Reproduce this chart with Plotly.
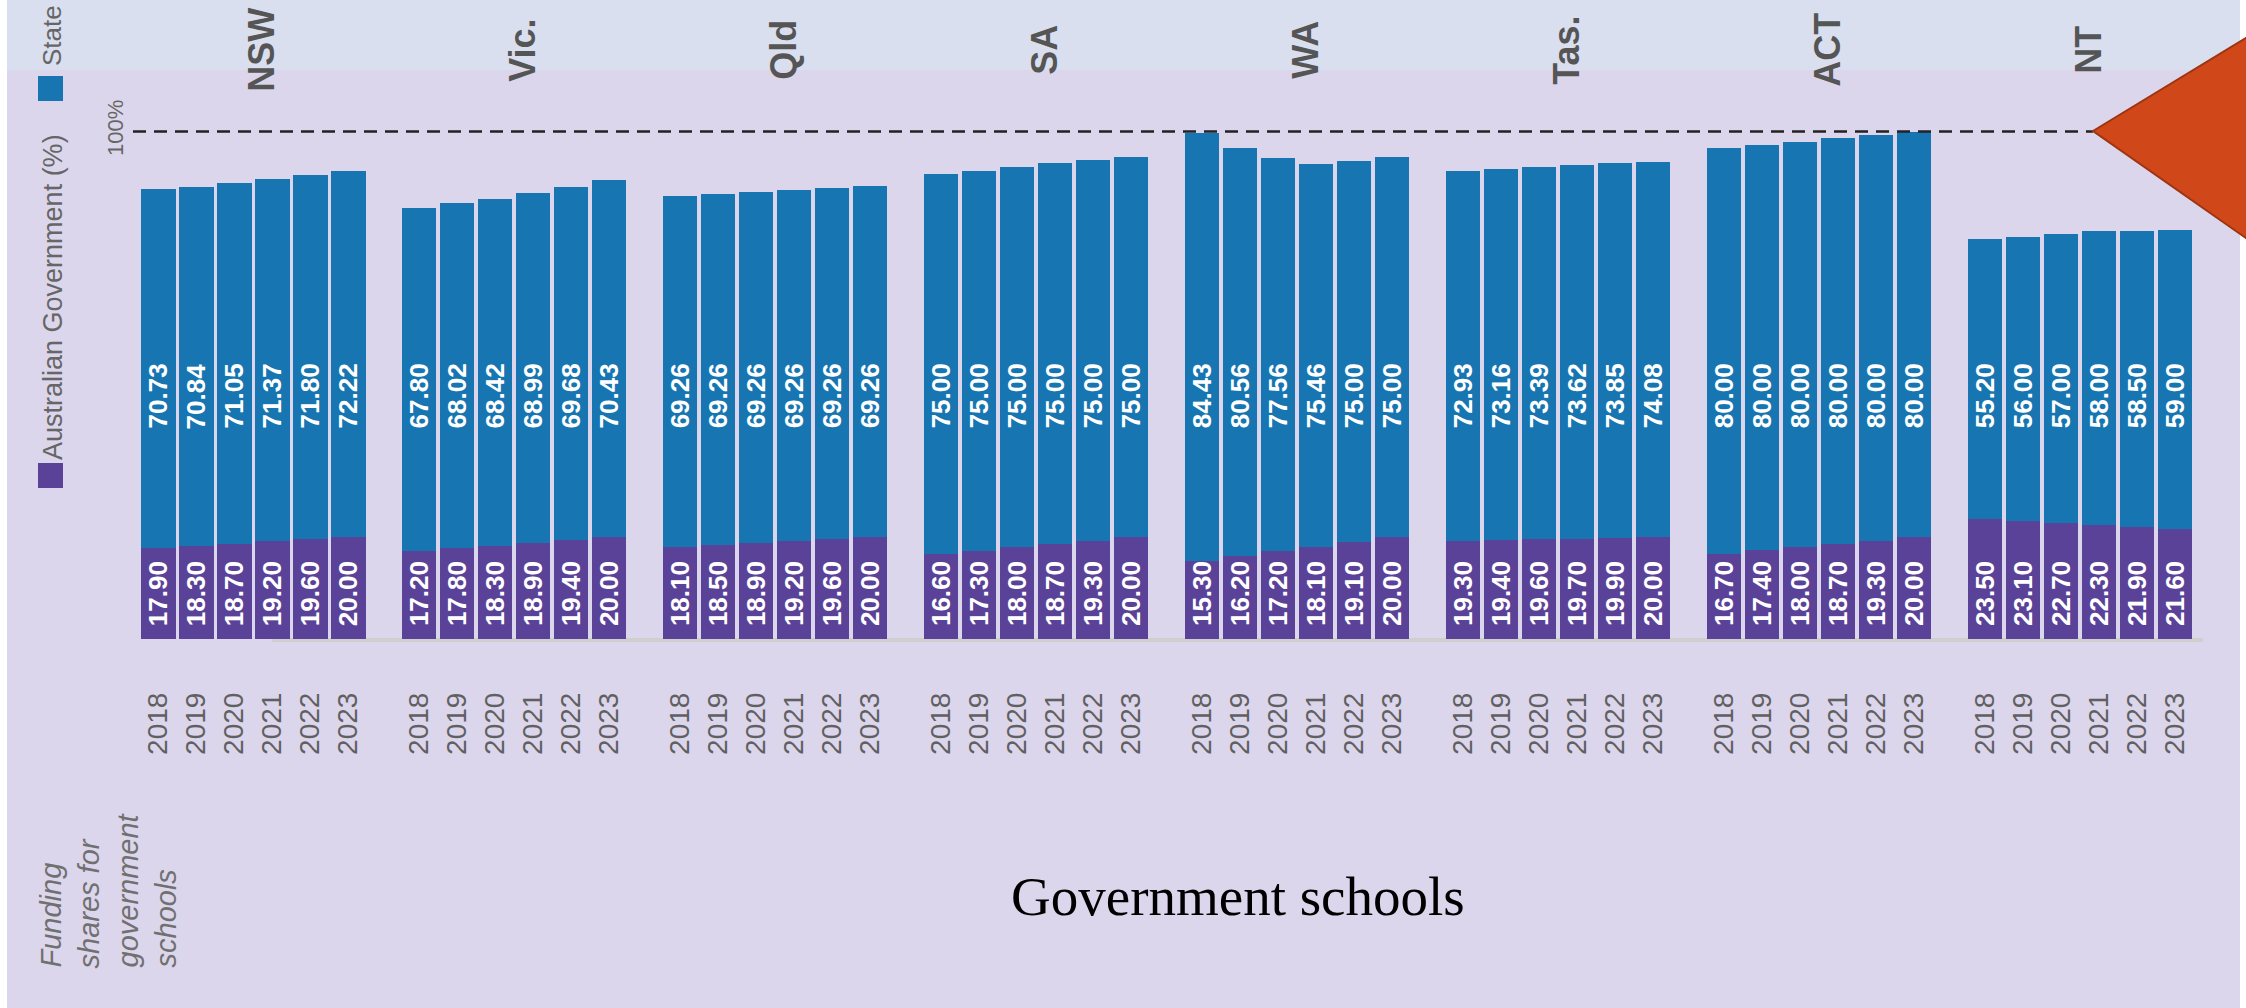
import plotly.graph_objects as go

# Funding shares for government schools, 2018-2023
states = ["NSW", "Vic.", "Qld", "SA", "WA", "Tas.", "ACT", "NT"]
years = ["2018", "2019", "2020", "2021", "2022", "2023"]

state_share = {
    "NSW": [70.73, 70.84, 71.05, 71.37, 71.80, 72.22],
    "Vic.": [67.80, 68.02, 68.42, 68.99, 69.68, 70.43],
    "Qld": [69.26, 69.26, 69.26, 69.26, 69.26, 69.26],
    "SA": [75.00, 75.00, 75.00, 75.00, 75.00, 75.00],
    "WA": [84.43, 80.56, 77.56, 75.46, 75.00, 75.00],
    "Tas.": [72.93, 73.16, 73.39, 73.62, 73.85, 74.08],
    "ACT": [80.00, 80.00, 80.00, 80.00, 80.00, 80.00],
    "NT": [55.20, 56.00, 57.00, 58.00, 58.50, 59.00],
}
aus_gov_share = {
    "NSW": [17.90, 18.30, 18.70, 19.20, 19.60, 20.00],
    "Vic.": [17.20, 17.80, 18.30, 18.90, 19.40, 20.00],
    "Qld": [18.10, 18.50, 18.90, 19.20, 19.60, 20.00],
    "SA": [16.60, 17.30, 18.00, 18.70, 19.30, 20.00],
    "WA": [15.30, 16.20, 17.20, 18.10, 19.10, 20.00],
    "Tas.": [19.30, 19.40, 19.60, 19.70, 19.90, 20.00],
    "ACT": [16.70, 17.40, 18.00, 18.70, 19.30, 20.00],
    "NT": [23.50, 23.10, 22.70, 22.30, 21.90, 21.60],
}
target_pct = 100
side_note = ["Funding", "shares for", "government", "schools"]

# ---- layout constants -------------------------------------------------
W, H = 2246, 1008
PLOT_H = 686                 # plot area height (top margin 0)
BOTTOM = H - PLOT_H
GROUP_STEP = 6.868           # x units between consecutive state groups
BAR_W = 0.908
X_RANGE = [-4.1645, 54.941]
Y_RANGE = [-9.369, 125.937]

BLUE = "#1775B1"
PURPLE = "#5B4299"
LAVENDER = "#DCD6EC"
BAND = "#D9DFEF"
GREY_TXT = "#666666"
SANS = "Liberation Sans"


def px(x):
    return x / W


def py(y):
    return (PLOT_H - y) / PLOT_H


def label(x, y, text, size, color, xref="paper", yref="paper", bold=False,
          xanchor="center", yanchor="middle", angle=-90, family=SANS, align="center"):
    return dict(x=x, y=y, xref=xref, yref=yref, text=text, textangle=angle, showarrow=False,
                xanchor=xanchor, yanchor=yanchor, align=align,
                font=dict(family=family, size=size, color=color,
                          weight="bold" if bold else "normal"))


xs, st_vals, ag_vals, tick_text = [], [], [], []
for g, s in enumerate(states):
    for i, yr in enumerate(years):
        xs.append(g * GROUP_STEP + i)
        st_vals.append(state_share[s][i])
        ag_vals.append(aus_gov_share[s][i])
        tick_text.append(yr)

fig = go.Figure()
fig.add_trace(go.Bar(x=xs, y=ag_vals, width=BAR_W, name="Australian Government (%)",
                     marker=dict(color=PURPLE, line=dict(width=0)), hoverinfo="skip"))
fig.add_trace(go.Bar(x=xs, y=st_vals, width=BAR_W, name="State",
                     marker=dict(color=BLUE, line=dict(width=0)), hoverinfo="skip"))

ann = []
# value labels, rotated, white
for x, sv, av in zip(xs, st_vals, ag_vals):
    ann.append(label(x, 47.8, f"{sv:.2f}", 26, "white", "x", "y", bold=True))
    ann.append(label(x, 8.8, f"{av:.2f}", 26, "white", "x", "y", bold=True))

# state names in the header band
for g, s in enumerate(states):
    ann.append(label(g * GROUP_STEP + 2.7, py(50), s, 36, "#555555", "x", "paper", bold=True))

# legend (vertical text with swatches)
ann.append(label(px(52), py(36), "State", 26, GREY_TXT))
ann.append(label(px(53), py(297), "Australian Government (%)", 27, GREY_TXT))
ann.append(label(px(116), py(128), f"{target_pct}%", 22, GREY_TXT))

# side note, one line per column, starting from the same baseline
for k, line in enumerate(side_note):
    ann.append(label(px(50 + 38.5 * k), py(970), f"<i>{line}</i>", 29, "#707070",
                     yanchor="bottom"))

ann.append(label(px(1238), py(896), "Government schools", 55, "black", angle=0,
                 family="Liberation Serif"))

shapes = [
    # header band
    dict(type="rect", xref="paper", yref="paper", x0=px(7), x1=px(2240), y0=py(70), y1=py(0),
         fillcolor=BAND, line=dict(width=0), layer="below"),
    # light base line under the bars
    dict(type="line", xref="paper", yref="paper", x0=px(272), x1=px(2203), y0=py(640), y1=py(640),
         line=dict(color="#CFCFCF", width=4), layer="below"),
    # white page edges
    dict(type="rect", xref="paper", yref="paper", x0=0, x1=px(7), y0=py(H), y1=py(0),
         fillcolor="white", line=dict(width=0), layer="above"),
    dict(type="rect", xref="paper", yref="paper", x0=px(2240), x1=1, y0=py(H), y1=py(0),
         fillcolor="white", line=dict(width=0), layer="above"),
    # 100% reference line
    dict(type="line", xref="paper", yref="y", x0=px(133), x1=px(2093), y0=target_pct, y1=target_pct,
         line=dict(color="#222222", width=2.5, dash="13px,8px"), layer="above"),
    # pointer triangle
    dict(type="path", xref="paper", yref="paper",
         path=f"M {px(2093)} {py(131)} L {px(2420)} {py(-68)} L {px(2420)} {py(360)} Z",
         fillcolor="#D0471A", line=dict(color="#9E3410", width=2), layer="above"),
    # legend swatches
    dict(type="rect", xref="paper", yref="paper", x0=px(38), x1=px(63), y0=py(101), y1=py(76),
         fillcolor=BLUE, line=dict(width=0), layer="above"),
    dict(type="rect", xref="paper", yref="paper", x0=px(38), x1=px(63), y0=py(488), y1=py(463),
         fillcolor=PURPLE, line=dict(width=0), layer="above"),
]

fig.update_layout(
    width=W, height=H,
    margin=dict(l=0, r=0, t=0, b=BOTTOM, pad=0),
    barmode="stack", bargap=0,
    showlegend=False,
    paper_bgcolor=LAVENDER,
    plot_bgcolor="rgba(0,0,0,0)",
    annotations=ann,
    shapes=shapes,
    xaxis=dict(range=X_RANGE, tickmode="array", tickvals=xs, ticktext=tick_text, tickangle=-90,
               showgrid=False, zeroline=False, showline=False, ticks="", ticklabelstandoff=0,
               tickfont=dict(family=SANS, size=28, color="#606060"), fixedrange=True),
    yaxis=dict(range=Y_RANGE, visible=False, showgrid=False, zeroline=False, fixedrange=True),
)

fig.write_html("out.html", config={"displayModeBar": False})
